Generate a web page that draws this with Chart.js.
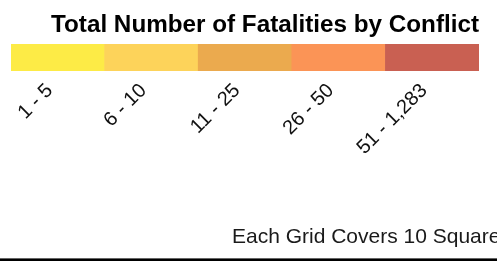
<!DOCTYPE html>
<html>
<head>
<meta charset="utf-8">
<script src="https://cdn.jsdelivr.net/npm/chart.js@4/dist/chart.umd.min.js"></script>
<style>
  html, body { margin: 0; padding: 0; background: #fff; }
  #wrap { position: relative; width: 497px; height: 261px; overflow: hidden; }
</style>
</head>
<body>
<div id="wrap"><canvas id="c"></canvas></div>
<script>
const categories = ['1 - 5', '6 - 10', '11 - 25', '26 - 50', '51 - 1,283'];
const values = [1, 1, 1, 1, 1];
const colors = ['#FDEB46', '#FDD35A', '#EBAA4E', '#FB9456', '#C96052'];
const titleText = 'Total Number of Fatalities by Conflict';
const noteText = 'Each Grid Covers 10 Square Kilometers';

const decor = {
  id: 'decor',
  afterDraw(chart) {
    const ctx = chart.ctx;
    ctx.save();
    ctx.fillStyle = '#1a1a1a';
    ctx.font = '21px "Liberation Sans", Arial, sans-serif';
    ctx.textBaseline = 'alphabetic';
    ctx.textAlign = 'left';
    ctx.fillText(noteText, 232, 243);
    ctx.fillStyle = '#000';
    ctx.fillRect(0, 258.4, chart.width, 2.6);
    ctx.restore();
  }
};

new Chart(document.getElementById('c'), {
  type: 'bar',
  data: {
    labels: categories,
    datasets: [{
      data: values,
      backgroundColor: colors,
      borderWidth: 0,
      barPercentage: 1,
      categoryPercentage: 1
    }]
  },
  options: {
    responsive: true,
    maintainAspectRatio: false,
    animation: false,
    layout: { padding: { left: 11, right: 18, top: 0, bottom: 0 } },
    plugins: {
      legend: { display: false },
      tooltip: { enabled: false },
      title: {
        display: true,
        text: titleText,
        align: 'end',
        color: '#000',
        font: { family: '"Liberation Sans", Arial, sans-serif', size: 24.25, weight: 'bold' },
        padding: { top: 11, bottom: 4 }
      }
    },
    scales: {
      x: {
        grid: { display: false, drawTicks: false },
        border: { display: false },
        ticks: {
          color: '#111',
          font: { family: '"Liberation Sans", Arial, sans-serif', size: 20 },
          minRotation: 45,
          maxRotation: 45,
          autoSkip: false,
          padding: 8,
          labelOffset: -8
        },
        afterFit(s) { s.height = 190; }
      },
      y: { display: false, min: 0, max: 1 }
    }
  },
  plugins: [decor]
});
</script>
</body>
</html>
